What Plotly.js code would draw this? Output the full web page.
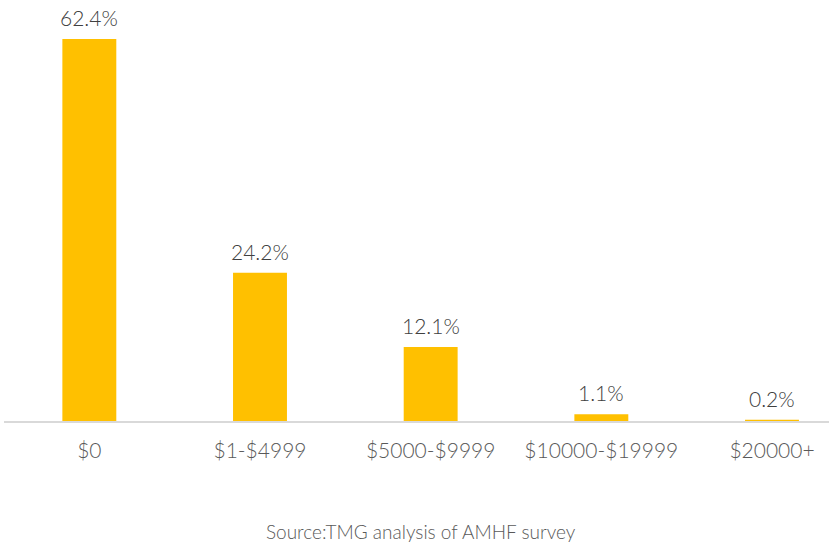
<!DOCTYPE html>
<html>
<head>
<meta charset="utf-8">
<script src="https://cdn.plot.ly/plotly-3.0.1.min.js"></script>
<style>html,body{margin:0;padding:0;background:#fff;}#chart{width:829px;height:544px;}</style>
</head>
<body>
<div id="chart"></div>
<script>
const categories = ["$0", "$1-$4999", "$5000-$9999", "$10000-$19999", "$20000+"];
const values = [62.4, 24.2, 12.1, 1.1, 0.2];
const labels = ["62.4%", "24.2%", "12.1%", "1.1%", "0.2%"];
const sourceNote = "Source:TMG analysis of AMHF survey";

const FONT = "Lato, 'Open Sans', sans-serif";

const labelAnnotations = categories.map((c, i) => ({
  x: c, y: values[i], xref: "x", yref: "y",
  text: labels[i], showarrow: false,
  xanchor: "center", yanchor: "bottom", yshift: 7,
  font: {family: FONT, size: 21, color: "#404040", weight: 300}
}));

Plotly.newPlot("chart", [{
  type: "bar",
  x: categories,
  y: values,
  cliponaxis: false,
  marker: {color: "#FFC000"},
  hoverinfo: "skip"
}], {
  width: 829, height: 544,
  margin: {l: 4, r: 0, t: 0, b: 123},
  paper_bgcolor: "#fff", plot_bgcolor: "#fff",
  bargap: 0.684,
  showlegend: false,
  xaxis: {
    range: [-0.5, 4.334],
    showline: true, linecolor: "#D9D9D9", linewidth: 1.5,
    ticks: "", showgrid: false, zeroline: false,
    ticklabelstandoff: 10,
    tickfont: {family: FONT, size: 21, color: "#595959", weight: 300}
  },
  yaxis: {
    range: [0, 68.77],
    visible: false, showgrid: false, zeroline: false
  },
  annotations: labelAnnotations.concat([{
    text: sourceNote, xref: "paper", yref: "paper",
    x: 0.505, y: 0, yshift: -110, xanchor: "center", yanchor: "middle",
    showarrow: false,
    font: {family: FONT, size: 19, color: "#595959", weight: 300}
  }])
}, {displayModeBar: false, staticPlot: true});
</script>
</body>
</html>
